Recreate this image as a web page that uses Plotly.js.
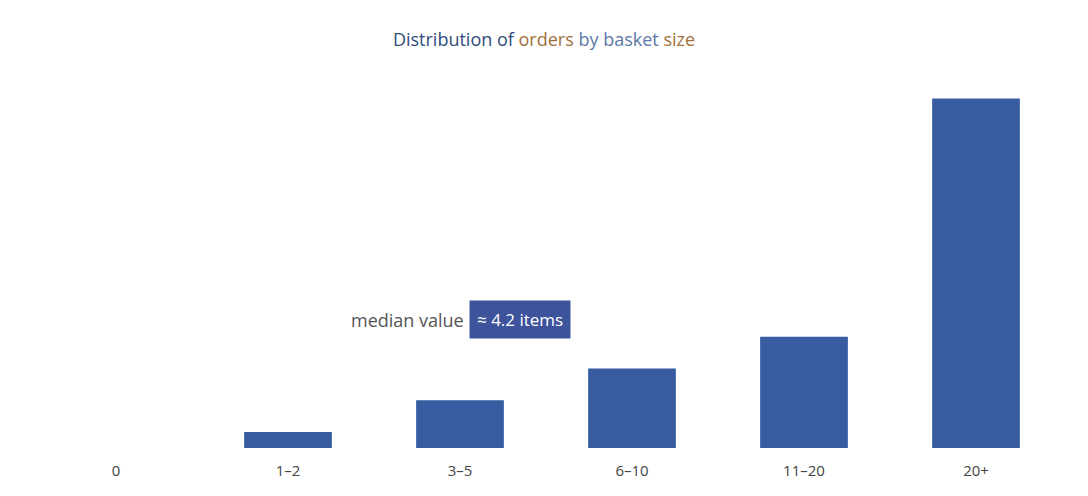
<!DOCTYPE html>
<html>
<head>
<meta charset="utf-8">
<script src="https://cdn.plot.ly/plotly-3.0.1.min.js"></script>
<style>
  html, body { margin: 0; padding: 0; background: #ffffff; }
  #chart { width: 1088px; height: 496px; }
</style>
</head>
<body>
<div id="chart"></div>
<script>
// bins and counts
const categories = ["0", "1–2", "3–5", "6–10", "11–20", "20+"];
const counts = [0, 1, 3, 5, 7, 22];

const barColor = "#375ca2";

const bars = {
    x: categories,
    y: counts,
    type: 'bar',
    marker: { color: barColor },
    hoverinfo: 'x+y'
};

Plotly.newPlot('chart', [bars], {
    width: 1088,
    height: 496,
    showlegend: false,
    paper_bgcolor: '#ffffff',
    plot_bgcolor: '#ffffff',
    margin: { l: 30, r: 26, t: 80, b: 48 },
    bargap: 0.49,
    font: { family: 'Open Sans, sans-serif' },
    title: {
        text: '<span style="color:#2f4d7a">Distribution of</span> <span style="color:#a0703c">orders</span> <span style="color:#5a79a8">by basket</span> <span style="color:#a0703c">size</span>',
        font: { size: 18, color: '#444444' },
        x: 0.5,
        xanchor: 'center',
        y: 0.919,
        yanchor: 'middle'
    },
    xaxis: {
        type: 'category',
        showgrid: false,
        zeroline: false,
        showline: false,
        ticks: '',
        ticklabelstandoff: 12,
        tickfont: { size: 15, color: '#444444' }
    },
    yaxis: {
        visible: false,
        showgrid: false,
        zeroline: false
    },
    annotations: [
        {
            xref: 'paper', yref: 'paper',
            x: 0.366, y: 0.348,
            xanchor: 'center', yanchor: 'middle',
            text: 'median value',
            showarrow: false,
            font: { size: 18, color: '#555555' }
        },
        {
            xref: 'paper', yref: 'paper',
            x: 0.475, y: 0.348,
            xanchor: 'center', yanchor: 'middle',
            text: '≈ 4.2 items',
            showarrow: false,
            bgcolor: '#3d539b',
            borderpad: 7,
            font: { size: 17, color: '#ffffff' }
        }
    ]
}, { displayModeBar: false });
</script>
</body>
</html>
